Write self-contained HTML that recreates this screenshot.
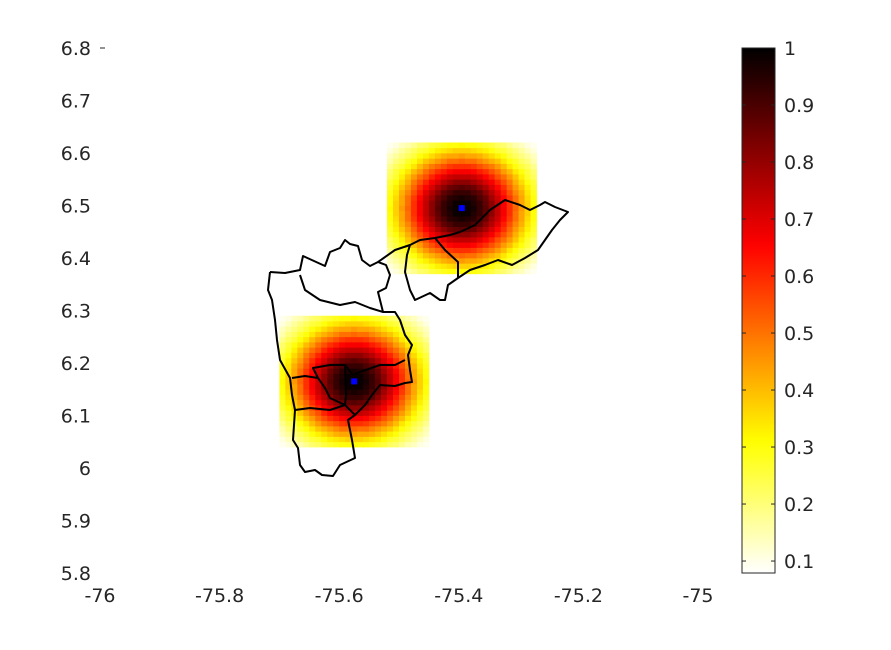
<!DOCTYPE html>
<html><head><meta charset="utf-8"><style>
body{margin:0;background:#fff}
svg text{font-family:"DejaVu Sans","Liberation Sans",sans-serif;font-size:19px;fill:#262626}
</style></head><body>
<svg id="chart" width="891" height="645" xmlns="http://www.w3.org/2000/svg">
<rect width="891" height="645" fill="#fff"/>
<g id="cells"></g>
<g id="outlines" fill="none" stroke="#000" stroke-width="2" stroke-linejoin="round">
<path d="M270,272 L285,273 L300,270 L303,256 L325,266 L330,252 L340,248 L345,240 L350,244 L358,246 L362,260 L370,266 L378,262 L386,265 L390,275 L386,288 L378,292 L383,312 L370,308 L355,302 L340,305 L320,300 L305,290 L300,275"/>
<path d="M270,272 L268,290 L272,300 L275,320 L277,340 L280,360 L290,378 L292,395 L295,410 L293,440 L298,448 L300,465 L305,472 L315,470 L322,475 L333,476 L340,465 L355,458 L352,440 L348,420 L355,415"/>
<path d="M383,312 L395,312 L400,320 L405,335 L412,345 L408,355 L410,370 L412,382 L405,383 L395,386 L380,385 L372,395 L365,405 L355,415"/>
<path d="M292,378 L305,376 L318,378 L313,368 L330,365 L345,365 L353,375 L360,372 L380,365 L395,365 L405,360 M345,405 L330,410 L310,408 L295,410 M318,378 L325,388 L330,398 L345,405 L355,415 M345,365 L346,395 L345,405"/>
<path d="M378,262 L395,250 L410,245 L420,240 L435,238 L450,235 L460,232 L475,225 L490,210 L505,200 L520,205 L530,210 L540,205 L545,202 L555,207 L568,212 L560,220 L552,230 L545,240 L538,250 L525,258 L512,265 L498,260 L485,265 L470,270 L458,278 L448,285 L445,300 L440,300 L430,293 L415,300 L410,290 L405,272 L407,255 L410,245 M435,238 L445,250 L458,262 L458,278"/>
</g>
<g id="points"></g>
<g id="xticks"></g><g id="yticks"></g>
<g id="cbar"></g>
</svg>
<script>
const centersX=[-75.395,-75.575];
const centersY=[6.495,6.165];
const sigmaDeg=[0.078,0.078];
const xTicks=[-76,-75.8,-75.6,-75.4,-75.2,-75];
const yTicks=[5.8,5.9,6,6.1,6.2,6.3,6.4,6.5,6.6,6.7,6.8];
const cbTicks=[0.1,0.2,0.3,0.4,0.5,0.6,0.7,0.8,0.9,1];
const cMin=0.079,cMax=1;
const NS="http://www.w3.org/2000/svg";
const xs=v=>100+(v+76)*598, ys=v=>573-(v-5.8)*525;
function hot(v){let t=Math.max(0,Math.min(1,(v-cMin)/(cMax-cMin)));t=Math.round(t*63)/63;let h=1-t;
 let r=Math.min(1,h/0.375),g=Math.max(0,Math.min(1,(h-0.375)/0.375)),b=Math.max(0,Math.min(1,(h-0.75)/0.25));
 return `rgb(${Math.round(r*255)},${Math.round(g*255)},${Math.round(b*255)})`;}
function mk(tag,attrs,parent){const e=document.createElementNS(NS,tag);for(const k in attrs)e.setAttribute(k,attrs[k]);parent.appendChild(e);return e;}
const cells=document.getElementById('cells');
for(let c=0;c<centersX.length;c++){
 for(let i=-12;i<=12;i++)for(let j=-12;j<=12;j++){
  const d2=(i*i+j*j)*0.0001;const v=Math.exp(-d2/(2*sigmaDeg[c]*sigmaDeg[c]));
  if(v<cMin)continue;
  const x0=xs(centersX[c]+(i-0.5)*0.01),x1=xs(centersX[c]+(i+0.5)*0.01);
  const y0=ys(centersY[c]+(j+0.5)*0.01),y1=ys(centersY[c]+(j-0.5)*0.01);
  const r=mk('rect',{x:x0,y:y0,width:x1-x0+0.4,height:y1-y0+0.4,fill:hot(v)},cells);
  
  
 }
}
const pts=document.getElementById('points');
for(let c=0;c<centersX.length;c++){
 const p=mk('rect',{x:xs(centersX[c])-3,y:ys(centersY[c])-3,width:6,height:6,fill:'#0000ff'},pts);
 
 
}
const xt=document.getElementById('xticks');
xTicks.forEach(v=>{const t=mk('text',{x:xs(v),y:602,'text-anchor':'middle'},xt);t.textContent=String(v);
 
 });
const yt=document.getElementById('yticks');
yTicks.forEach(v=>{const t=mk('text',{x:91,y:ys(v)+7,'text-anchor':'end'},yt);t.textContent=String(v);
 
 });
mk('line',{x1:100,y1:48,x2:105,y2:48,stroke:'#262626'},yt);
const cb=document.getElementById('cbar');
const cby=v=>573-(v-cMin)/(cMax-cMin)*525;
const defs=mk('defs',{},cb);const lg=mk('linearGradient',{id:'g',x1:0,y1:1,x2:0,y2:0},defs);
for(let k=0;k<=63;k++){const v=cMin+(cMax-cMin)*k/63;mk('stop',{offset:k/63,'stop-color':hot(v)},lg);}
const bar=mk('rect',{x:742,y:48,width:33,height:525,fill:'url(#g)',stroke:'#262626','stroke-width':1},cb);


cbTicks.forEach(v=>{const y=cby(v);mk('line',{x1:742,y1:y,x2:746,y2:y,stroke:'#262626'},cb);mk('line',{x1:771,y1:y,x2:775,y2:y,stroke:'#262626'},cb);
 const t=mk('text',{x:784,y:y+7},cb);t.textContent=String(v);
 
 });
</script>
</body></html>
